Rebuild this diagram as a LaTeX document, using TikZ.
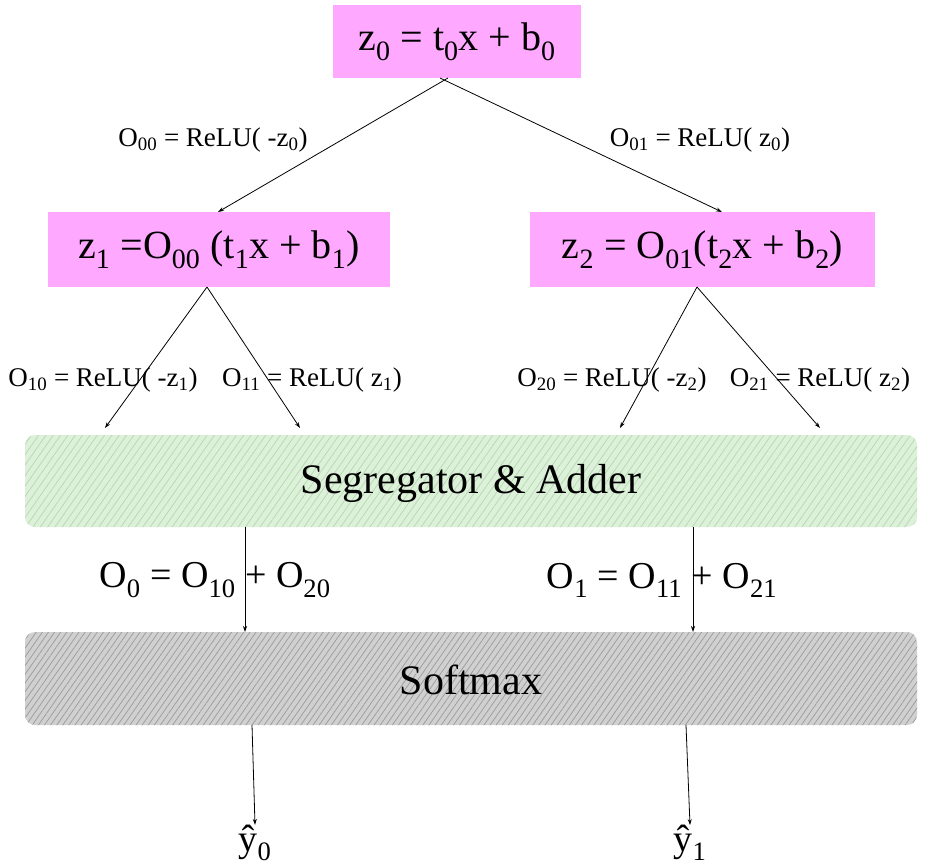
\documentclass[tikz,border=0pt]{standalone}
\usepackage{fontspec}
\setmainfont{Liberation Serif}
\usetikzlibrary{patterns.meta,arrows.meta}
\newcommand\sbs[1]{\textsubscript{#1}}
\definecolor{pinkbox}{HTML}{FFA8FF}
\definecolor{greenfill}{HTML}{DDF0DA}
\definecolor{greenhatch}{HTML}{B3D9AC}
\definecolor{grayfill}{HTML}{D0D0D0}
\definecolor{grayhatch}{HTML}{9A9A9A}
\begin{document}
\begin{tikzpicture}[x=1pt,y=-1pt,
  eq/.style={fill=pinkbox,draw=none,inner sep=0pt,font=\fontsize{40}{44}\selectfont},
  lab/.style={font=\fontsize{27}{30}\selectfont,inner sep=0pt},
  big/.style={font=\fontsize{38}{42}\selectfont,inner sep=0pt},
  arr/.style={-{Stealth[length=6pt,width=4pt]},line width=0.8pt}]
\useasboundingbox (0,0) rectangle (943,867);
\node[eq,minimum width=248,minimum height=73] (z0) at (457,41.5) {z\sbs{0} = t\sbs{0}x + b\sbs{0}};
\node[eq,minimum width=342,minimum height=75] (z1) at (219,249.5) {z\sbs{1} =O\sbs{00} (t\sbs{1}x + b\sbs{1})};
\node[eq,minimum width=345,minimum height=75] (z2) at (702.5,249.5) {z\sbs{2} = O\sbs{01}(t\sbs{2}x + b\sbs{2})};
\fill[greenfill,rounded corners=10pt] (25,435) rectangle (917,527);
\fill[pattern={Lines[angle=55,distance=6pt,line width=0.7pt]},pattern color=greenhatch,rounded corners=10pt] (25,435) rectangle (917,527);
\node[big,minimum width=892,minimum height=92,font=\fontsize{42}{46}\selectfont] (seg) at (471,483) {Segregator \& Adder};
\fill[grayfill,rounded corners=10pt] (25,632) rectangle (917,725);
\fill[pattern={Lines[angle=55,distance=5pt,line width=0.7pt]},pattern color=grayhatch,rounded corners=10pt] (25,632) rectangle (917,725);
\node[big,minimum width=892,minimum height=93,font=\fontsize{42}{46}\selectfont] (soft) at (471,680) {Softmax};
\coordinate (a1) at (218,212); \coordinate (a2) at (722,212);
\draw[arr] (448,78) -- (a1);
\draw[arr] (440,78) -- (a2);
\node[lab] (l00) at (213,140) {O\sbs{00} = ReLU( -z\sbs{0})};
\node[lab] (l01) at (700,140) {O\sbs{01} = ReLU( z\sbs{0})};
\coordinate (b1) at (105,428); \coordinate (b2) at (300,428);
\coordinate (b3) at (620,428); \coordinate (b4) at (820,428);
\draw[arr] (207,287) -- (b1);
\draw[arr] (207,287) -- (b2);
\draw[arr] (697,287) -- (b3);
\draw[arr] (697,287) -- (b4);
\node[lab] (l10) at (103,380) {O\sbs{10} = ReLU( -z\sbs{1})};
\node[lab] (l11) at (312,380) {O\sbs{11} = ReLU( z\sbs{1})};
\node[lab] (l20) at (612,380) {O\sbs{20} = ReLU( -z\sbs{2})};
\node[lab] (l21) at (820,380) {O\sbs{21} = ReLU( z\sbs{2})};
\draw[arr] (245,527) -- (245,632);
\draw[arr] (693,527) -- (693,632);
\node[big] (o0) at (215,580) {O\sbs{0} = O\sbs{10} + O\sbs{20}};
\node[big] (o1) at (662,580) {O\sbs{1} = O\sbs{11} + O\sbs{21}};
\node[big] (y0) at (255,843) {ŷ\sbs{0}};
\node[big] (y1) at (690,843) {ŷ\sbs{1}};
\draw[arr] (252,725) -- (y0.north);
\draw[arr] (686,725) -- (y1.north);
\end{tikzpicture}
\end{document}
